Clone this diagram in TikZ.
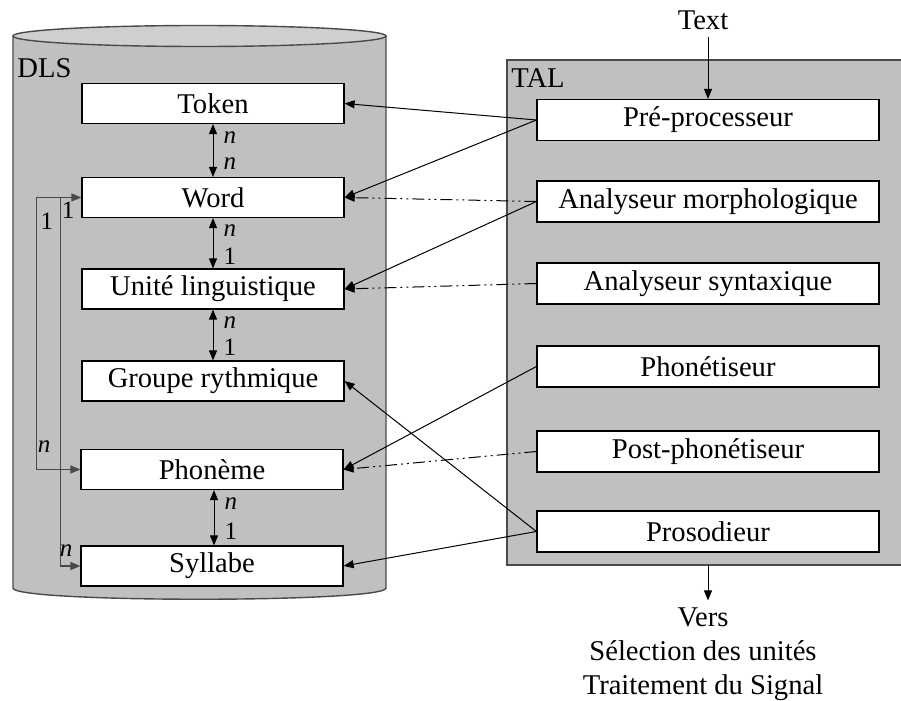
\documentclass[tikz,border=0pt]{standalone}
\usepackage{fontspec}
\setmainfont{Liberation Serif}
\usepackage{xcolor}
\usepackage{tikz}
\usetikzlibrary{arrows.meta,positioning}

\definecolor{dbgray}{HTML}{C0C0C0}
\definecolor{dbtop}{HTML}{CFCFCF}
\definecolor{rim}{HTML}{4A4A4A}

\begin{document}
\begin{tikzpicture}[
    x=0.5pt, y=-0.5pt,
    >={Triangle[length=5pt,width=4pt]},
    font=\fontsize{14.3}{17}\selectfont,
    dlsbox/.style={draw, line width=0.6pt, fill=white, minimum width=131pt, minimum height=20pt, inner sep=0pt},
    talbox/.style={draw, line width=0.6pt, fill=white, minimum width=171pt, minimum height=20.5pt, inner sep=0pt},
    card/.style={font=\fontsize{12.5}{14}\selectfont, inner sep=1pt},
    link/.style={->, line width=0.5pt},
    feed/.style={->, line width=0.5pt, dash pattern=on 6pt off 2pt on 1pt off 2pt on 1pt off 2pt}
]
    \useasboundingbox (0,0) rectangle (901,701);

    % DLS cylinder
    \draw[rim, line width=0.7pt, fill=dbgray] (13,36) -- (13,588)
        .. controls (13,603) and (386,603) .. (386,588) -- (386,36);
    \draw[rim, line width=0.7pt, fill=dbtop] (199.5,36) ellipse [x radius=186.5, y radius=10.5];
    \node[anchor=west, inner sep=0pt] (dls) at (17,68) {DLS};

    % TAL block (runs off the right side)
    \fill[dbgray] (902,60) -- (507,60) -- (507,565) -- (902,565) -- cycle;
    \draw[rim, line width=0.7pt] (902,60) -- (507,60) -- (507,565) -- (902,565);
    \node[anchor=west, inner sep=0pt] (tal) at (511,78) {TAL};
    \coordinate (talout) at (708,565);

    % DLS levels
    \node[dlsbox] (token) at (213,103.5) {Token};
    \node[dlsbox] (word)  at (213,197.5) {Word};
    \node[dlsbox] (unite) at (213,289) {Unité linguistique};
    \node[dlsbox] (grp)   at (213,381) {Groupe rythmique};
    \node[dlsbox] (phon)  at (212,469.5) {Phonème};
    \node[dlsbox] (syl)   at (212,566) {Syllabe};

    % TAL modules
    \node[talbox] (pre)   at (708,120) {Pré-processeur};
    \node[talbox] (morph) at (708,201.5) {Analyseur morphologique};
    \node[talbox] (synt)  at (708,283.5) {Analyseur syntaxique};
    \node[talbox] (phtz)  at (708,366.5) {Phonétiseur};
    \node[talbox] (post)  at (708,451.5) {Post-phonétiseur};
    \node[talbox] (pros)  at (708,531.5) {Prosodieur};

    % input / output
    \node (txt) at (703,20) {Text};
    \node[align=center] (vers) at (703,654) {Vers\\Sélection des unités\\Traitement du Signal};
    \draw[->, line width=0.5pt] (pre.north |- txt.south) -- (pre.north);
    \draw[->, line width=0.5pt] (talout) -- (talout |- vers.north);

    % cardinalities between levels
    \draw[<->, line width=0.5pt] (token) -- (word)
        node[card, near start, right, xshift=4pt] (c1) {\textit{n}}
        node[card, near end, right, xshift=4pt] (c2) {\textit{n}};
    \draw[<->, line width=0.5pt] (word) -- (unite)
        node[card, near start, right, xshift=4pt] (c3) {\textit{n}}
        node[card, near end, right, xshift=4pt] (c4) {1};
    \draw[<->, line width=0.5pt] (unite) -- (grp)
        node[card, near start, right, xshift=4pt] (c5) {\textit{n}}
        node[card, near end, right, xshift=4pt] (c6) {1};
    \draw[<->, line width=0.5pt] ([xshift=1pt]phon.south) -- ([xshift=1pt]syl.north)
        node[card, near start, right, xshift=4pt] (c7) {\textit{n}}
        node[card, near end, right, xshift=4pt] (c8) {1};

    % word links to phonemes and syllables
    \draw[<->, rim, line width=0.6pt] (word.west) -- ++(-45,0) |- (phon.west);
    \draw[->, rim, line width=0.6pt] (word.west) ++(-21,0) |- (syl.west);
    \node[card] (w1) at (47,221) {1};
    \node[card] (w2) at (68,210) {1};
    \node[card] (w3) at (44,447) {\textit{n}};
    \node[card] (w4) at (66,551) {\textit{n}};

    % modules writing into the levels
    \draw[link] (pre.west) -- (token.east);
    \draw[link] (pre.west) -- (word.east);
    \draw[feed] (morph.west) -- (word.east);
    \draw[link] (morph.west) -- (unite.east);
    \draw[feed] (synt.west) -- (unite.east);
    \draw[link] (phtz.west) -- (phon.east);
    \draw[feed] (post.west) -- (phon.east);
    \draw[link] (pros.west) -- (grp.east);
    \draw[link] (pros.west) -- (syl.east);

\end{tikzpicture}
\end{document}
